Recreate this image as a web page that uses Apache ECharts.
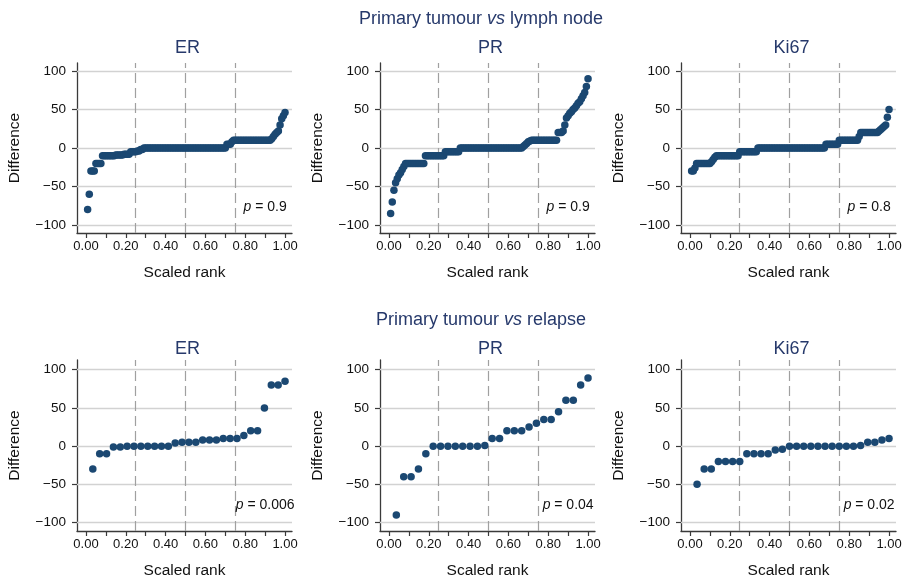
<!DOCTYPE html>
<html><head><meta charset="utf-8">
<script src="https://cdn.jsdelivr.net/npm/echarts@6/dist/echarts.min.js"></script>
<style>html,body{margin:0;padding:0;background:#fff}#c{width:903px;height:583px}</style>
</head><body><div id="c"></div>
<script>
// ---------- data ----------
const panelNames = ['ER', 'PR', 'Ki67'];
const rowTitles = ['Primary tumour {i|vs} lymph node', 'Primary tumour {i|vs} relapse'];

// Primary tumour vs lymph node (differences sorted by rank)
const nodeER = [-80,-60,-30,-30,-30,-20,-20,-20,-20,
  -10,-10,-10,-10,-10,-10,-10,-10,-9,-9,-9,-9,-9,-8,-8,-8,-8,
  -5,-5,-5,-5,-4,-4,-2,-2,
  0,0,0,0,0,0,0,0,0,0,0,0,0,0,0,0,0,0,0,0,0,0,0,0,0,
  0,0,0,0,0,0,0,0,0,0,0,0,0,0,0,0,0,0,0,0,0,0,0,0,0,
  5,5,5,8,
  10,10,10,10,10,10,10,10,10,10,10,10,10,10,10,10,10,10,10,10,10,10,10,
  12,15,18,20,22,30,38,42,46];
const nodePR = [-85,-70,-55,-45,-40,-35,-32,-28,-24,
  -20,-20,-20,-20,-20,-20,-20,-20,-20,-20,-20,-20,
  -10,-10,-10,-10,-10,-10,-10,-10,-10,-10,-10,-10,
  -5,-5,-5,-5,-5,-5,-5,-5,-5,
  0,0,0,0,0,0,0,0,0,0,0,0,0,0,0,0,0,0,0,
  0,0,0,0,0,0,0,0,0,0,0,0,0,0,0,0,0,0,0,
  2,4,6,8,9,
  10,10,10,10,10,10,10,10,10,10,10,10,10,10,10,10,
  20,20,20,
  22,30,39,42,45,47,50,52,55,58,60,64,68,72,80,90];
const nodeKi67 = [-30,-30,-26,
  -20,-20,-20,-20,-20,-20,-20,-20,-20,
  -18,-15,-12,
  -10,-10,-10,-10,-10,-10,-10,-10,-10,-10,-10,-10,-10,-10,
  -5,-5,-5,-5,-5,-5,-5,-5,-5,-5,-5,
  0,0,0,0,0,0,0,0,0,0,0,0,0,0,0,0,0,0,0,0,0,
  0,0,0,0,0,0,0,0,0,0,0,0,0,0,0,0,0,0,0,0,
  5,5,5,5,5,5,5,5,
  10,10,10,10,10,10,10,10,10,10,10,10,
  15,
  20,20,20,20,20,20,20,20,20,20,20,
  22,24,26,28,30,40,50];

// Primary tumour vs relapse
const relapseER = [-30,-10,-10,-1,-1,0,0,0,0,0,0,0,4,5,5,5,8,8,8,10,10,10,14,20,20,50,80,80,85];
const relapsePR = [-90,-40,-40,-30,-10,0,0,0,0,0,0,0,1,10,10,20,20,20,25,30,35,35,45,60,60,80,89];
const relapseKi67 = [-50,-30,-30,-20,-20,-20,-20,-10,-10,-10,-10,-5,-4,0,0,0,0,0,0,0,0,0,0,1,5,5,8,10];

const pNode = ['0.9', '0.9', '0.8'];
const pRelapse = ['0.006', '0.04', '0.02'];

const xTickValues = [0, 0.1, 0.2, 0.3, 0.4, 0.5, 0.6, 0.7, 0.8, 0.9, 1.0];
const xLabelValues = [0, 0.2, 0.4, 0.6, 0.8, 1.0];
const yTickValues = [-100, -50, 0, 50, 100];
const quartileLines = [0.25, 0.5, 0.75];
const pTextPos = [0.9, -77];

// ---------- layout / style ----------
const FONT = '"Liberation Sans", Arial, Helvetica, sans-serif';
const NAVY = '#1b4872';
const TITLE = '#26396b';
const TXT = '#111';
const AX = '#3a3a3a';
const colLeft = [77, 380, 681];
const gridW = 215;
const rowTop = [63, 360];
const rowH = [170, 171];
const yMin = [-110.4, -111];
const yMax = [110.4, 112.7];

const rows = [
  {vals: [nodeER, nodePR, nodeKi67], p: pNode},
  {vals: [relapseER, relapsePR, relapseKi67], p: pRelapse}
];

const grids = [], xAxes = [], yAxes = [], series = [], titles = [];
const superTop = [5, 306];
const subTop = [34, 335];

rows.forEach((row, r) => {
  titles.push({
    text: rowTitles[r], left: 476, top: superTop[r], textAlign: 'center',
    textStyle: {fontSize: 18, fontWeight: 'normal', color: TITLE, fontFamily: FONT,
      rich: {i: {fontStyle: 'italic', fontSize: 18, color: TITLE, fontFamily: FONT}}}
  });
  row.vals.forEach((vals, c) => {
    const k = r * 3 + c;
    titles.push({
      text: panelNames[c], left: colLeft[c] + gridW / 2 - 2, top: subTop[r], textAlign: 'center',
      textStyle: {fontSize: 18, fontWeight: 'normal', color: TITLE, fontFamily: FONT}
    });
    grids.push({left: colLeft[c], top: rowTop[r], width: gridW, height: rowH[r],
      containLabel: false, outerBoundsMode: 'none'});
    xAxes.push({
      gridIndex: k, type: 'value', min: -0.045, max: 1.035,
      axisLine: {show: true, onZero: false, lineStyle: {color: AX, width: 1.3}},
      axisTick: {show: true, customValues: xTickValues, length: 5, lineStyle: {color: AX, width: 1.2}},
      axisLabel: {customValues: xLabelValues, formatter: v => v.toFixed(2), margin: 7,
        fontSize: 13, color: TXT, fontFamily: FONT},
      splitLine: {show: false},
      name: 'Scaled rank', nameLocation: 'middle', nameGap: 32,
      nameTextStyle: {fontSize: 15.5, color: TXT, fontFamily: FONT}
    });
    yAxes.push({
      gridIndex: k, type: 'value', min: yMin[r], max: yMax[r],
      axisLine: {show: true, onZero: false, lineStyle: {color: AX, width: 1.3}},
      axisTick: {show: true, customValues: yTickValues, length: 5, lineStyle: {color: AX, width: 1.2}},
      axisLabel: {customValues: yTickValues, formatter: v => String(v).replace('-', '\u2212'),
        margin: 11, fontSize: 13.5, color: TXT, fontFamily: FONT},
      splitLine: {show: false},
      name: 'Difference', nameLocation: 'middle', nameGap: 54,
      nameTextStyle: {fontSize: 15.5, color: TXT, fontFamily: FONT}
    });
    const n = vals.length;
    series.push({
      type: 'scatter', xAxisIndex: k, yAxisIndex: k, silent: true, z: 3,
      data: vals.map((v, i) => [(i + 1) / n, v]),
      symbol: 'circle', symbolSize: 7.5, itemStyle: {color: NAVY, opacity: 1},
      markLine: {
        silent: true, symbol: ['none', 'none'], z: 1, animation: false,
        label: {show: false}, emphasis: {disabled: true},
        data: [
          ...yTickValues.map(v => ({yAxis: v, lineStyle: {color: '#d2d2d2', width: 1.3, type: 'solid'}})),
          ...quartileLines.map(v => ({xAxis: v, lineStyle: {color: '#a0a0a0', width: 1.2, type: [10, 5]}}))
        ]
      },
      markPoint: {
        silent: true, animation: false, z: 4,
        data: [{
          coord: pTextPos, symbol: 'circle', symbolSize: 1, itemStyle: {color: 'rgba(0,0,0,0)'},
          label: {show: true, position: 'inside', formatter: '{i|p} = ' + row.p[c],
            color: TXT, fontSize: 14, fontFamily: FONT,
            rich: {i: {fontStyle: 'italic', fontSize: 14, color: TXT, fontFamily: FONT}}}
        }]
      }
    });
  });
});

const chart = echarts.init(document.getElementById('c'), null, {renderer: 'canvas'});
chart.setOption({
  animation: false, backgroundColor: '#fff',
  title: titles, grid: grids, xAxis: xAxes, yAxis: yAxes, series: series
});
</script></body></html>
